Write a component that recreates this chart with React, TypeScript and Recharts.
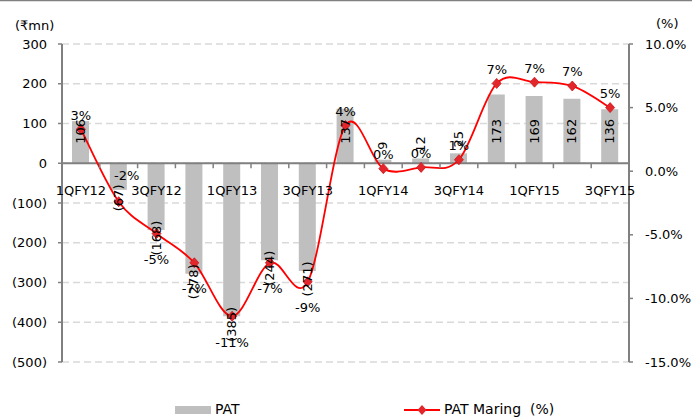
import { Bar, Line, XAxis, YAxis, CartesianGrid, ReferenceLine, LabelList, ComposedChart } from "recharts";

const quarters = [
  "1QFY12", "2QFY12", "3QFY12", "4QFY12", "1QFY13", "2QFY13", "3QFY13", "4QFY13",
  "1QFY14", "2QFY14", "3QFY14", "4QFY14", "1QFY15", "2QFY15", "3QFY15",
];
const pat = [106, -67, -168, -278, -385, -244, -271, 137, 9, 12, 25, 173, 169, 162, 136];
const patMargin = [3.3, -2.4, -4.9, -7.2, -11.4, -7.2, -8.7, 3.6, 0.2, 0.3, 0.9, 6.9, 7.0, 6.7, 5.0];
const leftTicks = [300, 200, 100, 0, -100, -200, -300, -400, -500];
const rightTicks = [10, 5, 0, -5, -10, -15];

const data = quarters.map((q, i) => ({ q, pat: pat[i], margin: patMargin[i] }));

const W = 692;
const H = 418;
const TOP = 44;
const BOTTOM = 56;
const X_H = 2;
const LEFT_W = 62;
const RIGHT_W = 63;
const PLOT_H = H - TOP - BOTTOM;
const PLOT_W = W - LEFT_W - RIGHT_W;
const ZERO_Y = TOP + (PLOT_H * 300) / 800;
const BAND = PLOT_W / quarters.length;

const GREY = "#808080";
const BAR = "#BFBFBF";
const RED = "#FF0000";
const FONT = "DejaVu Sans";

// excel-style smoothed line (catmull-rom through the points)
const excelCurve = (context: any) => {
  let xs: number[] = [];
  let ys: number[] = [];
  return {
    areaStart() {},
    areaEnd() {},
    lineStart() {
      xs = [];
      ys = [];
    },
    point(x: number, y: number) {
      xs.push(+x);
      ys.push(+y);
    },
    lineEnd() {
      const n = xs.length;
      if (!n) return;
      context.moveTo(xs[0], ys[0]);
      for (let i = 0; i < n - 1; i++) {
        const a = Math.max(i - 1, 0);
        const d = Math.min(i + 2, n - 1);
        context.bezierCurveTo(
          xs[i] + (xs[i + 1] - xs[a]) / 6,
          ys[i] + (ys[i + 1] - ys[a]) / 6,
          xs[i + 1] - (xs[d] - xs[i]) / 6,
          ys[i + 1] - (ys[d] - ys[i]) / 6,
          xs[i + 1],
          ys[i + 1]
        );
      }
    },
  };
};

const fmtLeft = (v: number) => (v < 0 ? `(${-v})` : `${v}`);

const QuarterTick = (props: any) => {
  const { x, payload, index } = props;
  return (
    <g>
      <line x1={x - BAND / 2} x2={x - BAND / 2} y1={ZERO_Y} y2={ZERO_Y + 5} stroke={GREY} strokeWidth={1.5} />
      {index % 2 === 0 && (
        <text x={x} y={ZERO_Y + 32} textAnchor="middle" fontSize={13} fill="#000">
          {payload.value}
        </text>
      )}
    </g>
  );
};

const BarValueLabel = (props: any) => {
  const vb = props.viewBox ?? props;
  const { x, y, width, height } = vb;
  const value = Number(props.value);
  const top = Math.min(y, y + height);
  const bottom = Math.max(y, y + height);
  const cx = x + width / 2;
  let cy: number;
  if (value >= 100) cy = ZERO_Y - 32;
  else if (value >= 0) cy = top - 14;
  else cy = bottom + 8;
  return (
    <text
      x={cx}
      y={cy}
      transform={`rotate(-90 ${cx} ${cy})`}
      textAnchor="middle"
      dominantBaseline="central"
      fontSize={13}
      fill="#000"
    >
      {fmtLeft(value)}
    </text>
  );
};

const MarginLabel = (props: any) => {
  const vb = props.viewBox ?? {};
  const x = props.x ?? vb.x;
  const y = props.y ?? vb.y;
  const value = Number(props.value);
  const below = value < -3;
  const cy = below ? y + 26 : y - 14;
  const cx = value < 0 && !below ? x + 8 : x;
  return (
    <text x={cx} y={value < 0 && !below ? y - 26 : cy} textAnchor="middle" dominantBaseline="central" fontSize={13} fill="#000">
      {`${Math.round(value)}%`}
    </text>
  );
};

const Diamond = (props: any) => {
  const { cx, cy } = props;
  if (cx == null || cy == null) return <g />;
  return (
    <path
      d={`M${cx},${cy - 5} L${cx + 4.5},${cy} L${cx},${cy + 5} L${cx - 4.5},${cy} Z`}
      fill="#E3262B"
      stroke="#C8191E"
      strokeWidth={0.8}
    />
  );
};

export default function App() {
  return (
    <div style={{ position: "absolute", left: 0, top: 0, width: W, height: H, fontFamily: FONT, background: "#fff" }}>
      <ComposedChart
        width={W}
        height={H}
        data={data}
        margin={{ top: TOP, right: 0, bottom: BOTTOM - X_H, left: 0 }}
        barSize={17}
      >
        <CartesianGrid yAxisId="left" vertical={false} stroke="#D9D9D9" strokeDasharray="7 4" strokeWidth={1.5} />
        <XAxis
          dataKey="q"
          height={X_H}
          interval={0}
          axisLine={false}
          tickLine={false}
          tick={(p: any) => <QuarterTick {...p} />}
        />
        <YAxis
          yAxisId="left"
          width={LEFT_W}
          domain={[-500, 300]}
          ticks={leftTicks}
          tickFormatter={fmtLeft}
          tickSize={4}
          tickMargin={11}
          axisLine={{ stroke: GREY, strokeWidth: 2 }}
          tickLine={{ stroke: GREY, strokeWidth: 1.5 }}
          tick={{ fill: "#000", fontSize: 13 }}
        />
        <YAxis
          yAxisId="right"
          orientation="right"
          width={RIGHT_W}
          domain={[-15, 10]}
          ticks={rightTicks}
          tickFormatter={(v: number) => `${v.toFixed(1)}%`}
          tickSize={4}
          tickMargin={12}
          axisLine={{ stroke: GREY, strokeWidth: 2 }}
          tickLine={{ stroke: GREY, strokeWidth: 1.5 }}
          tick={{ fill: "#000", fontSize: 13, textAnchor: "start" }}
        />
        <Bar yAxisId="left" dataKey="pat" fill={BAR} isAnimationActive={false}>
          <LabelList dataKey="pat" content={<BarValueLabel />} />
        </Bar>
        <ReferenceLine yAxisId="left" y={0} stroke={GREY} strokeWidth={2} />
        <Line
          yAxisId="right"
          dataKey="margin"
          type={excelCurve as any}
          stroke={RED}
          strokeWidth={1.8}
          dot={<Diamond />}
          activeDot={false}
          isAnimationActive={false}
        >
          <LabelList dataKey="margin" content={<MarginLabel />} />
        </Line>
      </ComposedChart>
      <svg
        width={W}
        height={H}
        style={{ position: "absolute", left: 0, top: 0, pointerEvents: "none" }}
      >
        <line x1={0} x2={W} y1={0.5} y2={0.5} stroke={GREY} strokeWidth={1.5} />
        <text x={15} y={30} fontSize={13} fill="#000">(₹mn)</text>
        <text x={656} y={28} fontSize={13} fill="#000">(%)</text>
        <rect x={175} y={406} width={36} height={8} fill={BAR} />
        <text x={215} y={414} fontSize={14} fill="#000">PAT</text>
        <line x1={404} x2={440} y1={410} y2={410} stroke={RED} strokeWidth={2} />
        <path d="M422,405 L426.5,410 L422,415 L417.5,410 Z" fill="#E3262B" />
        <text x={444} y={414} fontSize={14} fill="#000" style={{ whiteSpace: "pre" }}>
          PAT Maring  (%)
        </text>
      </svg>
    </div>
  );
}
